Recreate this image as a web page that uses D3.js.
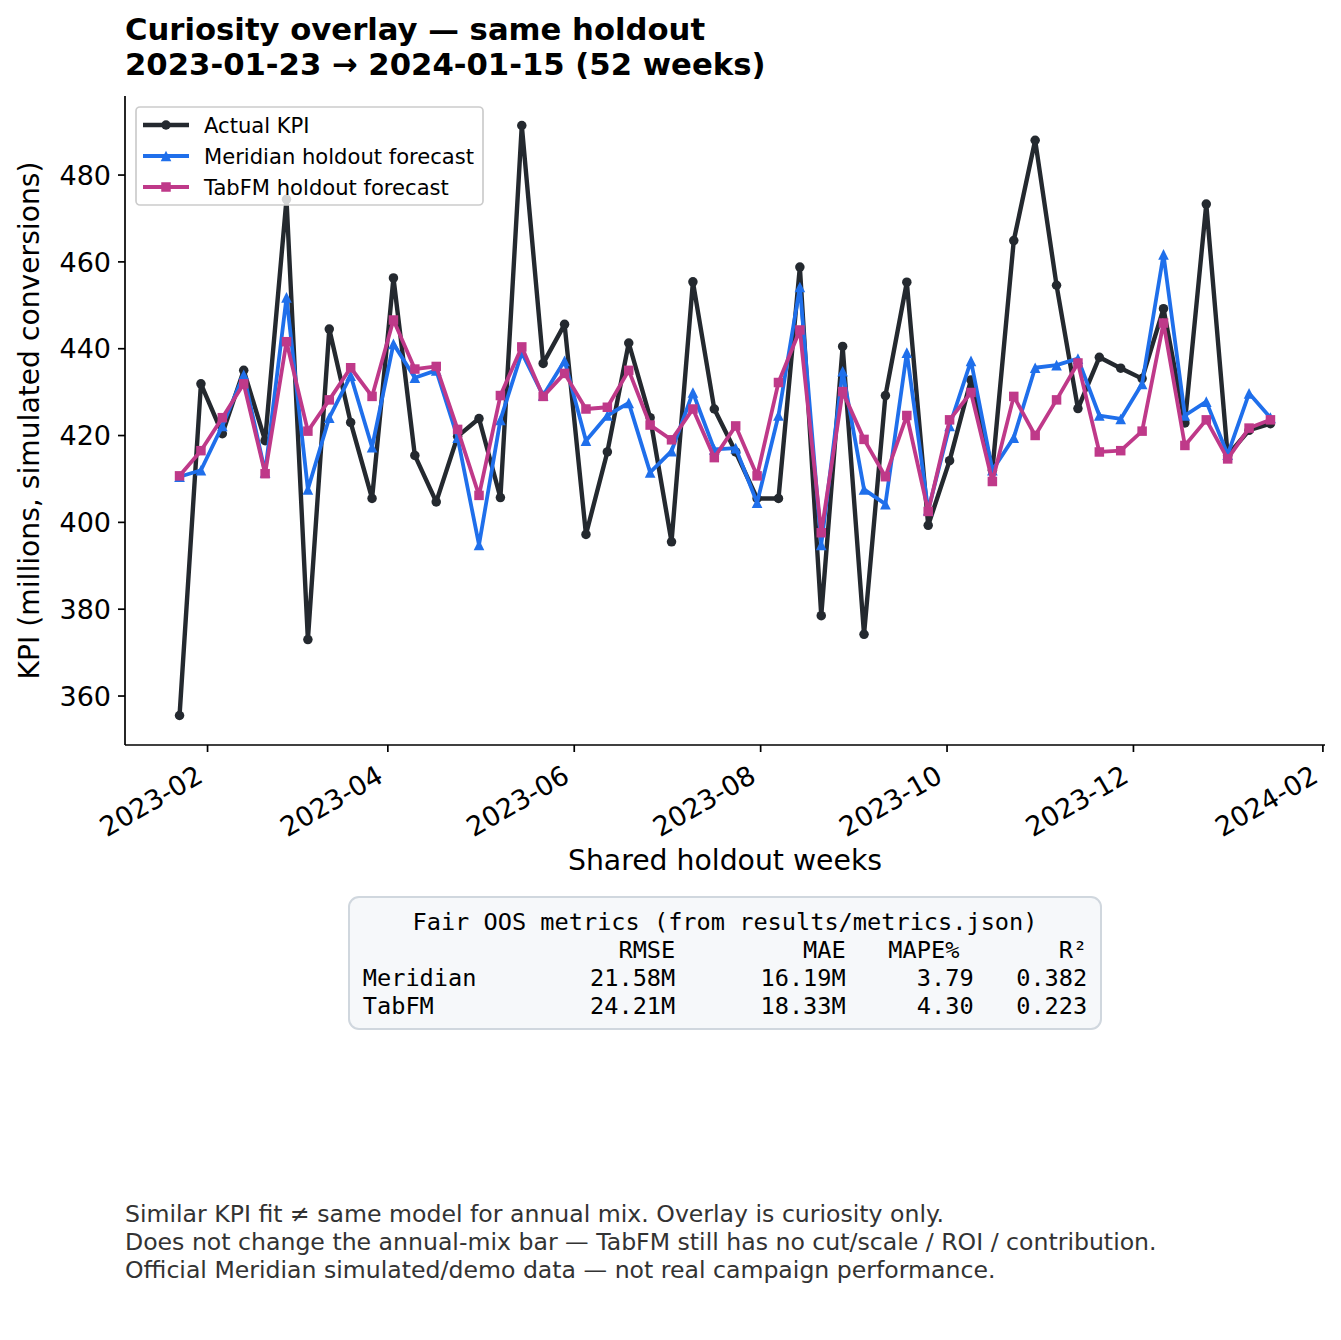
<!DOCTYPE html>
<html>
<head>
<meta charset="utf-8">
<script src="https://cdn.jsdelivr.net/npm/d3@7"></script>
<style>
  html, body { margin: 0; padding: 0; background: #ffffff; }
  svg { display: block; font-family: "DejaVu Sans", sans-serif; }
  .mono { font-family: "DejaVu Sans Mono", monospace; white-space: pre; }
</style>
</head>
<body>
<div id="chart"></div>
<script>
// ---------------- DATA ----------------
const START_WEEK = "2023-01-23";
const N_WEEKS = 52;
const actualKPI = [355.4, 431.8, 420.3, 434.9, 418.7, 474.3, 372.9, 444.4, 422.9, 405.4,
  456.2, 415.3, 404.6, 419.7, 423.8, 405.6, 491.3, 436.5, 445.5, 397.1,
  416.1, 441.2, 424.0, 395.4, 455.3, 426.0, 416.1, 405.4, 405.4, 458.7,
  378.4, 440.4, 374.1, 429.1, 455.2, 399.2, 414.1, 432.7, 411.9, 464.8,
  487.9, 454.5, 426.1, 437.9, 435.4, 433.0, 449.1, 422.8, 473.2, 415.3,
  421.1, 422.6];
const meridianForecast = [410.4, 411.9, 422.1, 433.9, 411.4, 451.7, 407.5, 424.0, 433.7, 417.2,
  441.0, 433.2, 434.9, 419.4, 394.7, 423.5, 439.0, 429.1, 437.1, 418.7,
  424.5, 427.4, 411.4, 416.3, 429.8, 416.7, 417.0, 404.4, 424.5, 454.1,
  394.7, 434.7, 407.5, 404.1, 439.0, 402.7, 422.1, 437.1, 411.9, 419.4,
  435.5, 436.1, 437.6, 424.5, 423.7, 431.8, 461.6, 424.5, 427.7, 415.5,
  429.6, 424.0];
const tabfmForecast = [410.6, 416.4, 424.0, 431.8, 411.1, 441.5, 420.9, 428.1, 435.5, 428.9,
  446.5, 435.2, 435.8, 421.3, 406.1, 429.1, 440.3, 428.9, 434.2, 426.0,
  426.4, 434.9, 422.3, 418.9, 426.0, 414.8, 422.1, 410.6, 432.1, 444.2,
  397.5, 430.0, 419.0, 410.4, 424.5, 402.4, 423.5, 429.8, 409.3, 428.9,
  419.9, 428.1, 436.6, 416.1, 416.4, 420.9, 445.8, 417.6, 423.5, 414.5,
  421.6, 423.5];
const seriesNames = ["Actual KPI", "Meridian holdout forecast", "TabFM holdout forecast"];
const yTickValues = [360, 380, 400, 420, 440, 460, 480];
const xTickLabels = ["2023-02", "2023-04", "2023-06", "2023-08", "2023-10", "2023-12", "2024-02"];
const titleLines = ["Curiosity overlay \u2014 same holdout", "2023-01-23 \u2192 2024-01-15 (52 weeks)"];
const xAxisLabel = "Shared holdout weeks";
const yAxisLabel = "KPI (millions, simulated conversions)";
const metricsTitle = "Fair OOS metrics (from results/metrics.json)";
const metricsHeader = ["", "RMSE", "MAE", "MAPE%", "R\u00b2"];
const metricsRows = [
  ["Meridian", "21.58M", "16.19M", "3.79", "0.382"],
  ["TabFM", "24.21M", "18.33M", "4.30", "0.223"]
];
const footnotes = [
  "Similar KPI fit \u2260 same model for annual mix. Overlay is curiosity only.",
  "Does not change the annual-mix bar \u2014 TabFM still has no cut/scale / ROI / contribution.",
  "Official Meridian simulated/demo data \u2014 not real campaign performance."
];

// ---------------- LAYOUT / STYLE ----------------
const W = 1341, H = 1340;
const M = { left: 125, right: 1325, top: 96, bottom: 745 };
const COLORS = ["#24292f", "#1f6feb", "#bf3989"];
const LW = [4.4, 3.8, 3.8];

const parse = d3.utcParse("%Y-%m-%d");
const start = parse(START_WEEK);
const weeks = d3.range(N_WEEKS).map(i => d3.utcDay.offset(start, 7 * i));

const series = [actualKPI, meridianForecast, tabfmForecast].map((vals, k) => ({
  name: seriesNames[k], color: COLORS[k], lw: LW[k], marker: ["circle", "triangle", "square"][k],
  points: vals.map((v, i) => ({ date: weeks[i], value: v }))
}));

const svg = d3.select("#chart").append("svg").attr("width", W).attr("height", H);

// scales with matplotlib-like 5% margins
const xExt = d3.extent(weeks);
const xPad = (xExt[1] - xExt[0]) * 0.05;
const x = d3.scaleUtc()
  .domain([new Date(+xExt[0] - xPad), new Date(+xExt[1] + xPad)])
  .range([M.left, M.right]);
const allVals = actualKPI.concat(meridianForecast, tabfmForecast);
const yExt = d3.extent(allVals);
const yPad = (yExt[1] - yExt[0]) * 0.05;
const y = d3.scaleLinear().domain([yExt[0] - yPad, yExt[1] + yPad]).range([M.bottom, M.top]);

// ---------- Title ----------
svg.append("g").selectAll("text").data(titleLines).join("text")
  .attr("x", 125).attr("y", (d, i) => 40 + i * 34.5)
  .attr("font-size", 30.7).attr("font-weight", "bold").attr("fill", "#000")
  .text(d => d);

// ---------- Axes ----------
const xTicks = xTickLabels.map(s => d3.utcParse("%Y-%m")(s));
const xAxis = d3.axisBottom(x).tickValues(xTicks).tickFormat(d3.utcFormat("%Y-%m")).tickSize(7).tickPadding(7);
const gx = svg.append("g").attr("transform", `translate(0,${M.bottom})`).call(xAxis);
gx.attr("font-family", null);
gx.select(".domain").attr("stroke", "#000").attr("stroke-width", 1.7).attr("d", `M${M.left},0H${M.right}`);
gx.selectAll(".tick line").attr("stroke", "#000").attr("stroke-width", 1.7);
gx.selectAll(".tick text")
  .attr("font-size", 27).attr("fill", "#000")
  .attr("text-anchor", "end")
  .attr("y", null).attr("dy", null)
  .attr("transform", "translate(-3,36) rotate(-30)");

const yAxis = d3.axisLeft(y).tickValues(yTickValues).tickSize(7).tickPadding(7);
const gy = svg.append("g").attr("transform", `translate(${M.left},0)`).call(yAxis);
gy.attr("font-family", null);
gy.select(".domain").attr("stroke", "#000").attr("stroke-width", 1.7).attr("d", `M0,${M.bottom}V${M.top}`);
gy.selectAll(".tick line").attr("stroke", "#000").attr("stroke-width", 1.7);
gy.selectAll(".tick text").attr("font-size", 27).attr("fill", "#000").attr("dy", "0.36em");

// axis labels
svg.append("text").attr("x", (M.left + M.right) / 2).attr("y", 870)
  .attr("text-anchor", "middle").attr("font-size", 28.3).attr("fill", "#000").text(xAxisLabel);
svg.append("text").attr("transform", `translate(39,${(M.top + M.bottom) / 2}) rotate(-90)`)
  .attr("text-anchor", "middle").attr("font-size", 28.2).attr("fill", "#000").text(yAxisLabel);

// ---------- Lines + markers ----------
const line = d3.line().x(d => x(d.date)).y(d => y(d.value));
const MS = 9.5;
function drawMarker(g, type, color, cx, cy, size) {
  if (type === "circle") {
    g.append("circle").attr("cx", cx).attr("cy", cy).attr("r", size / 2).attr("fill", color);
  } else if (type === "triangle") {
    const s = size * 1.12;
    g.append("path").attr("d", `M${cx},${cy - s / 2}L${cx + s / 2},${cy + s / 2}L${cx - s / 2},${cy + s / 2}Z`).attr("fill", color);
  } else {
    g.append("rect").attr("x", cx - size / 2).attr("y", cy - size / 2).attr("width", size).attr("height", size).attr("fill", color);
  }
}
const plot = svg.append("g");
series.forEach(s => {
  const g = plot.append("g");
  g.append("path").datum(s.points).attr("d", line).attr("fill", "none")
    .attr("stroke", s.color).attr("stroke-width", s.lw).attr("stroke-linejoin", "round").attr("stroke-linecap", "round");
  s.points.forEach(p => drawMarker(g, s.marker, s.color, x(p.date), y(p.value), MS));
});

// ---------- Legend ----------
const lg = svg.append("g");
lg.append("rect").attr("x", 136).attr("y", 107).attr("width", 347).attr("height", 98).attr("rx", 4)
  .attr("fill", "#ffffff").attr("fill-opacity", 0.8).attr("stroke", "#cccccc").attr("stroke-width", 1.7);
series.forEach((s, i) => {
  const cy = 125 + i * 31;
  lg.append("line").attr("x1", 143).attr("x2", 189).attr("y1", cy).attr("y2", cy)
    .attr("stroke", s.color).attr("stroke-width", s.lw);
  drawMarker(lg, s.marker, s.color, 166, cy, MS);
  lg.append("text").attr("x", 204).attr("y", cy).attr("dy", "0.36em")
    .attr("font-size", 21.1).attr("fill", "#000").text(s.name);
});

// ---------- Metrics box ----------
const widths = [8, 14, 12, 8, 9];
const valWidths = [8, 14, 12, 9, 8];
function padLeft(s, n) { return s.length >= n ? s : " ".repeat(n - s.length) + s; }
function padRight(s, n) { return s.length >= n ? s : s + " ".repeat(n - s.length); }
const headerLine = padRight(metricsHeader[0], widths[0]) + metricsHeader.slice(1).map((h, j) => padLeft(h, widths[j + 1])).join("");
const rowLines = metricsRows.map(r => padRight(r[0], valWidths[0]) + r.slice(1).map((v, j) => padLeft(v, valWidths[j + 1])).join(""));
const boxLines = [metricsTitle, headerLine].concat(rowLines);

const mb = svg.append("g");
mb.append("rect").attr("x", 349).attr("y", 897).attr("width", 752).attr("height", 132).attr("rx", 10)
  .attr("fill", "#f6f8fa").attr("stroke", "#d0d7de").attr("stroke-width", 2);
mb.selectAll("text").data(boxLines).join("text")
  .attr("class", "mono")
  .attr("x", 725).attr("y", (d, i) => 930 + i * 28)
  .attr("text-anchor", "middle")
  .attr("font-size", 23.6).attr("fill", "#000")
  .attr("xml:space", "preserve")
  .text(d => d);

// ---------- Footnotes ----------
svg.append("g").selectAll("text").data(footnotes).join("text")
  .attr("x", 125).attr("y", (d, i) => 1222 + i * 28)
  .attr("font-size", 23.6).attr("fill", "#333333").text(d => d);
</script>
</body>
</html>
